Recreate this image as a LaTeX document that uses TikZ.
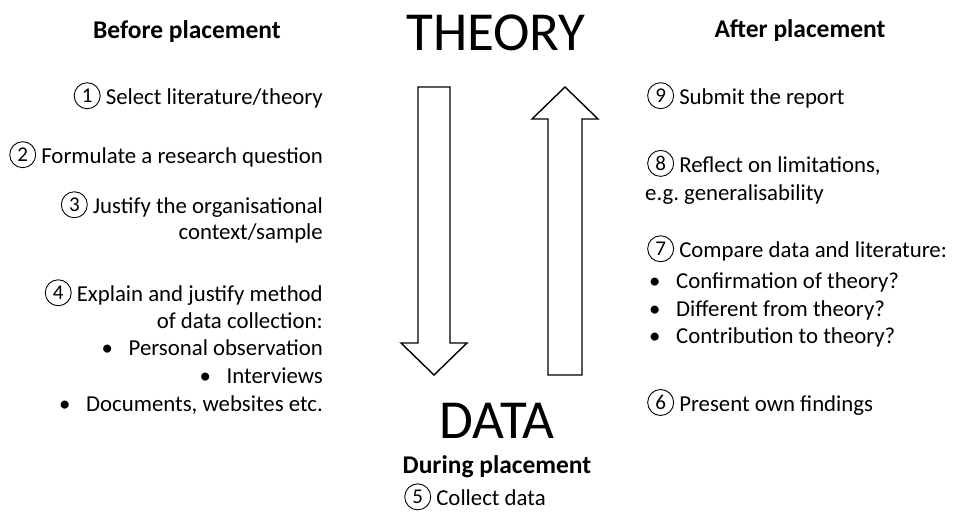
\documentclass[tikz,border=0pt]{standalone}
\usepackage{fontspec}
\setmainfont{Carlito}
\usepackage{tikz}

\newcommand\stepno[1]{\tikz[baseline={([yshift=-1.5pt]n.base)}]\node[circle,draw,line width=0.9pt,inner sep=0pt,minimum size=26pt,font=\fontsize{21}{24}\selectfont] (n) {#1};}
\newcommand\bul{\makebox[27pt][l]{\textbullet}}

\begin{document}
\begin{tikzpicture}[x=1pt,y=-1pt,
	every node/.style={inner sep=0pt,font=\fontsize{22.8}{27}\selectfont},
	head/.style={font=\fontsize{25.5}{30}\selectfont\bfseries,anchor=base},
	big/.style={font=\fontsize{55}{66}\selectfont,anchor=base},
	lft/.style={anchor=base east},
	rgt/.style={anchor=base west}]
	\useasboundingbox (0,0) rectangle (966,525);
	% titles
	\node [big] (theory) at (496, 50) {THEORY};
	\node [big] (data) at (497, 438) {DATA};
	\node [head] (before) at (187, 38) {Before placement};
	\node [head] (after) at (800, 37) {After placement};
	\node [head] (during) at (497, 473) {During placement};
	\node [anchor=base] (s5) at (475, 505) {\stepno{5} Collect data};
	% before placement
	\node [lft] (s1) at (323, 104) {\stepno{1} Select literature/theory};
	\node [lft] (s2) at (323, 163) {\stepno{2} Formulate a research question};
	\node [lft] (s3a) at (323, 213) {\stepno{3} Justify the organisational};
	\node [lft] (s3b) at (323, 239) {context/sample};
	\node [lft] (s4a) at (323, 301) {\stepno{4} Explain and justify method};
	\node [lft] (s4b) at (323, 328) {of data collection:};
	\node [lft] (s4c) at (323, 355) {\bul Personal observation};
	\node [lft] (s4d) at (323, 383) {\bul Interviews};
	\node [lft] (s4e) at (323, 411) {\bul Documents, websites etc.};
	% after placement
	\node [rgt] (s9) at (647, 104) {\stepno{9} Submit the report};
	\node [rgt] (s8a) at (647, 172) {\stepno{8} Reflect on limitations,};
	\node [rgt] (s8b) at (645, 200) {e.g.\ generalisability};
	\node [rgt] (s7) at (647, 257) {\stepno{7} Compare data and literature:};
	\node [rgt] (s7a) at (649, 288) {\bul Confirmation of theory?};
	\node [rgt] (s7b) at (649, 316) {\bul Different from theory?};
	\node [rgt] (s7c) at (649, 343) {\bul Contribution to theory?};
	\node [rgt] (s6) at (647, 411) {\stepno{6} Present own findings};
	% arrows
	\draw [line width=1.4pt, fill=white] (418,87) -- (450,87) -- (450,343) -- (467,343)
		-- (434,375) -- (401,343) -- (418,343) -- cycle;
	\draw [line width=1.4pt, fill=white] (548,375) -- (582,375) -- (582,119) -- (598,119)
		-- (565,87) -- (532,119) -- (548,119) -- cycle;
\end{tikzpicture}
\end{document}
